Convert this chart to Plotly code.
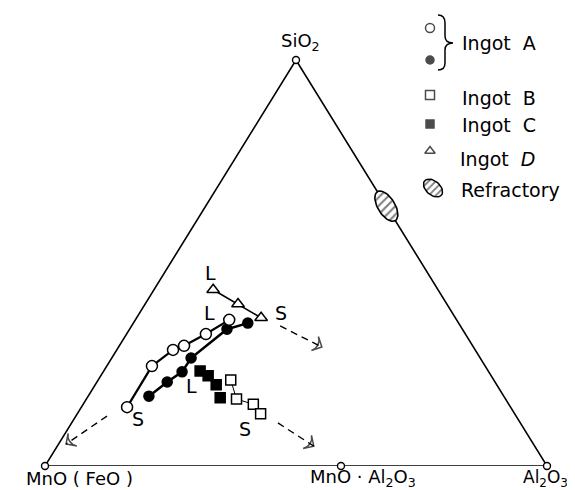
import numpy as np
import plotly.graph_objects as go

# ---- Data: compositions in wt% (MnO(FeO) = 100 - SiO2 - Al2O3) ----
a_open_sio2 = [14.5, 24.6, 28.6, 29.6, 32.5, 36.0]
a_open_al2o3 = [9.1, 9.0, 11.2, 12.9, 15.8, 18.7]
a_fill_sio2 = [17.2, 20.7, 23.2, 26.6, 33.7, 35.2]
a_fill_al2o3 = [12.1, 14.0, 15.7, 15.8, 19.4, 22.8]
b_sio2 = [21.2, 16.5, 15.2, 12.9]
b_al2o3 = [26.4, 29.9, 33.9, 36.5]
c_sio2 = [23.4, 22.2, 20.0, 16.8]
c_al2o3 = [19.2, 21.4, 24.1, 26.5]
d_sio2 = [43.4, 39.9, 36.5]
d_al2o3 = [11.8, 18.5, 24.8]
refractory_sio2 = 64.0
refractory_al2o3 = 36.0
spinel_al2o3 = 58.96  # MnO·Al2O3 on the MnO–Al2O3 join

# trend arrows (tail, head) as (SiO2, Al2O3)
arrow_d = [(34.5, 29.6), (29.3, 40.5)]
arrow_a = [(12.3, 6.2), (5.4, 1.5)]
arrow_b = [(10.6, 41.1), (4.9, 51.1)]

vertex_labels = ["SiO<sub>2</sub>", "MnO ( FeO )", "MnO · Al<sub>2</sub>O<sub>3</sub>",
                 "Al<sub>2</sub>O<sub>3</sub>"]
legend_labels = ["Ingot  A", "Ingot  B", "Ingot  C", "Ingot  <i>D</i>", "Refractory"]

# ---- geometry of the page ----
W, H = 575, 490
PX_L, PX_R, PY_BASE, PY_APEX = 37, 539, 458, 52
FONT = "DejaVu Sans"


def tern(s, a):
    s = np.asarray(s, float) / 100.0
    a = np.asarray(a, float) / 100.0
    return a + s / 2.0, s


def to_px(X, Y):
    return PX_L + (PX_R - PX_L) * np.asarray(X), PY_BASE - (PY_BASE - PY_APEX) * np.asarray(Y)


fig = go.Figure()

# triangle frame
fx, fy = tern([0, 0, 100, 0], [0, 100, 0, 0])
fig.add_trace(go.Scatter(x=fx, y=fy, mode="lines", line=dict(color="black", width=1.6),
                         hoverinfo="skip", showlegend=False, cliponaxis=False))
vx, vy = tern([100, 0, 0, 0], [0, 0, spinel_al2o3, 100])
fig.add_trace(go.Scatter(x=vx, y=vy, mode="markers", cliponaxis=False, showlegend=False,
                         marker=dict(symbol="circle", size=7, color="white",
                                     line=dict(color="black", width=1.4))))

# dashed trend arrows
for arr in (arrow_d, arrow_a, arrow_b):
    ax_, ay_ = tern([p[0] for p in arr], [p[1] for p in arr])
    fig.add_trace(go.Scatter(x=ax_, y=ay_, mode="lines", line=dict(color="black", width=1.4, dash="7px,5px"),
                             showlegend=False, hoverinfo="skip", cliponaxis=False))
    fig.add_trace(go.Scatter(x=ax_, y=ay_, mode="markers", showlegend=False, hoverinfo="skip",
                             cliponaxis=False,
                             marker=dict(symbol=["circle", "arrow-wide-open"], size=[0, 11],
                                         angleref="previous", color="black",
                                         line=dict(color="black", width=1.5))))


def series(s, a, symbol, size, fill, lw, mode):
    x, y = tern(s, a)
    fig.add_trace(go.Scatter(x=x, y=y, mode=mode, cliponaxis=False, showlegend=False,
                             line=dict(color="black", width=lw),
                             marker=dict(symbol=symbol, size=size, color=fill,
                                         line=dict(color="black", width=1.5))))


series(d_sio2, d_al2o3, "triangle-up", 11, "white", 1.6, "lines+markers")
series(b_sio2, b_al2o3, "square", 10, "white", 1.0, "lines+markers")
series(c_sio2, c_al2o3, "square", 10, "black", 1.0, "markers")
series(a_fill_sio2, a_fill_al2o3, "circle", 10, "black", 2.5, "lines+markers")
series(a_open_sio2, a_open_al2o3, "circle", 11, "white", 2.2, "lines+markers")

# ---- pixel-space overlay (x2/y2 span the whole page) ----
# refractory ellipse: centre from composition, long axis along the SiO2–Al2O3 edge
cX, cY = tern([refractory_sio2], [refractory_al2o3])
cpx, cpy = to_px(cX[0], cY[0])
ex, ey = to_px([0.5, 1.0], [1.0, 0.0])
u = np.array([ex[1] - ex[0], ey[1] - ey[0]]); u /= np.linalg.norm(u)
v = np.array([-u[1], u[0]])
t = np.linspace(0, 2 * np.pi, 60)
epx = cpx + 17 * np.cos(t) * u[0] + 8.5 * np.sin(t) * v[0]
epy = cpy + 17 * np.cos(t) * u[1] + 8.5 * np.sin(t) * v[1]
fig.add_trace(go.Scatter(x=epx, y=epy, xaxis="x2", yaxis="y2", mode="lines", fill="toself",
                         fillcolor="white",
                         fillpattern=dict(shape="/", size=6, solidity=0.35, fgcolor="black", bgcolor="white"),
                         line=dict(color="black", width=1.6), showlegend=False, hoverinfo="skip"))

# custom key
key_px = [422, 422, 422, 422, 422]
key_py = [20, 52, 87, 116, 143]
key_sym = ["circle", "circle", "square", "square", "triangle-up"]
key_fill = ["white", "black", "white", "black", "white"]
key_size = [9, 8, 9, 8, 9]
fig.add_trace(go.Scatter(x=key_px, y=key_py, xaxis="x2", yaxis="y2", mode="markers", showlegend=False,
                         marker=dict(symbol=key_sym, size=key_size, color=key_fill,
                                     line=dict(color="black", width=1.5))))
kt = np.linspace(0, 2 * np.pi, 40)
ang = np.deg2rad(40)
kx = 425 + 11 * np.cos(kt) * np.cos(ang) - 7 * np.sin(kt) * np.sin(ang)
ky = 180 + 11 * np.cos(kt) * np.sin(ang) + 7 * np.sin(kt) * np.cos(ang)
fig.add_trace(go.Scatter(x=kx, y=ky, xaxis="x2", yaxis="y2", mode="lines", fill="toself",
                         fillcolor="white",
                         fillpattern=dict(shape="/", size=5, solidity=0.35, fgcolor="black", bgcolor="white"),
                         line=dict(color="black", width=1.5), showlegend=False, hoverinfo="skip"))

fig.add_shape(type="path", xref="x2", yref="y2",
              path="M 430,7 Q 437,7 437,15 L 437,28 Q 437,35 445,35 Q 437,35 437,42 L 437,55 Q 437,62 430,62",
              line=dict(color="black", width=1.5))

anns = []


def txt(px, py, s, size=18, xanchor="center"):
    anns.append(dict(x=px / W, y=1 - py / H, xref="paper", yref="paper", text=s, showarrow=False,
                     xanchor=xanchor, yanchor="middle", font=dict(family=FONT, size=size, color="black")))


txt(452, 35, legend_labels[0], size=19, xanchor="left")
txt(452, 90, legend_labels[1], size=19, xanchor="left")
txt(452, 117, legend_labels[2], size=19, xanchor="left")
txt(450, 151, legend_labels[3], size=19, xanchor="left")
txt(451, 182, legend_labels[4], size=19, xanchor="left")

# vertex labels
txt(292, 34, vertex_labels[0])
txt(71, 470, vertex_labels[1])
txt(355, 470, vertex_labels[2])
txt(537, 470, vertex_labels[3], size=17)

# L / S labels
for px, py, s in [(202, 265, "L"), (201, 305, "L"), (273, 305, "S"), (130, 411, "S"),
                  (183, 378, "L"), (237, 421, "S")]:
    txt(px, py, s, size=19)

fig.update_layout(
    width=W, height=H, margin=dict(l=0, r=0, t=0, b=0),
    paper_bgcolor="white", plot_bgcolor="rgba(0,0,0,0)",
    xaxis=dict(domain=[PX_L / W, PX_R / W], range=[0, 1], visible=False, fixedrange=True, anchor="y"),
    yaxis=dict(domain=[1 - PY_BASE / H, 1 - PY_APEX / H], range=[0, 1], visible=False, fixedrange=True,
               anchor="x"),
    xaxis2=dict(domain=[0, 1], range=[0, W], visible=False, fixedrange=True, anchor="y2"),
    yaxis2=dict(domain=[0, 1], range=[H, 0], visible=False, fixedrange=True, anchor="x2"),
    annotations=anns,
)

fig.write_html("out.html")
